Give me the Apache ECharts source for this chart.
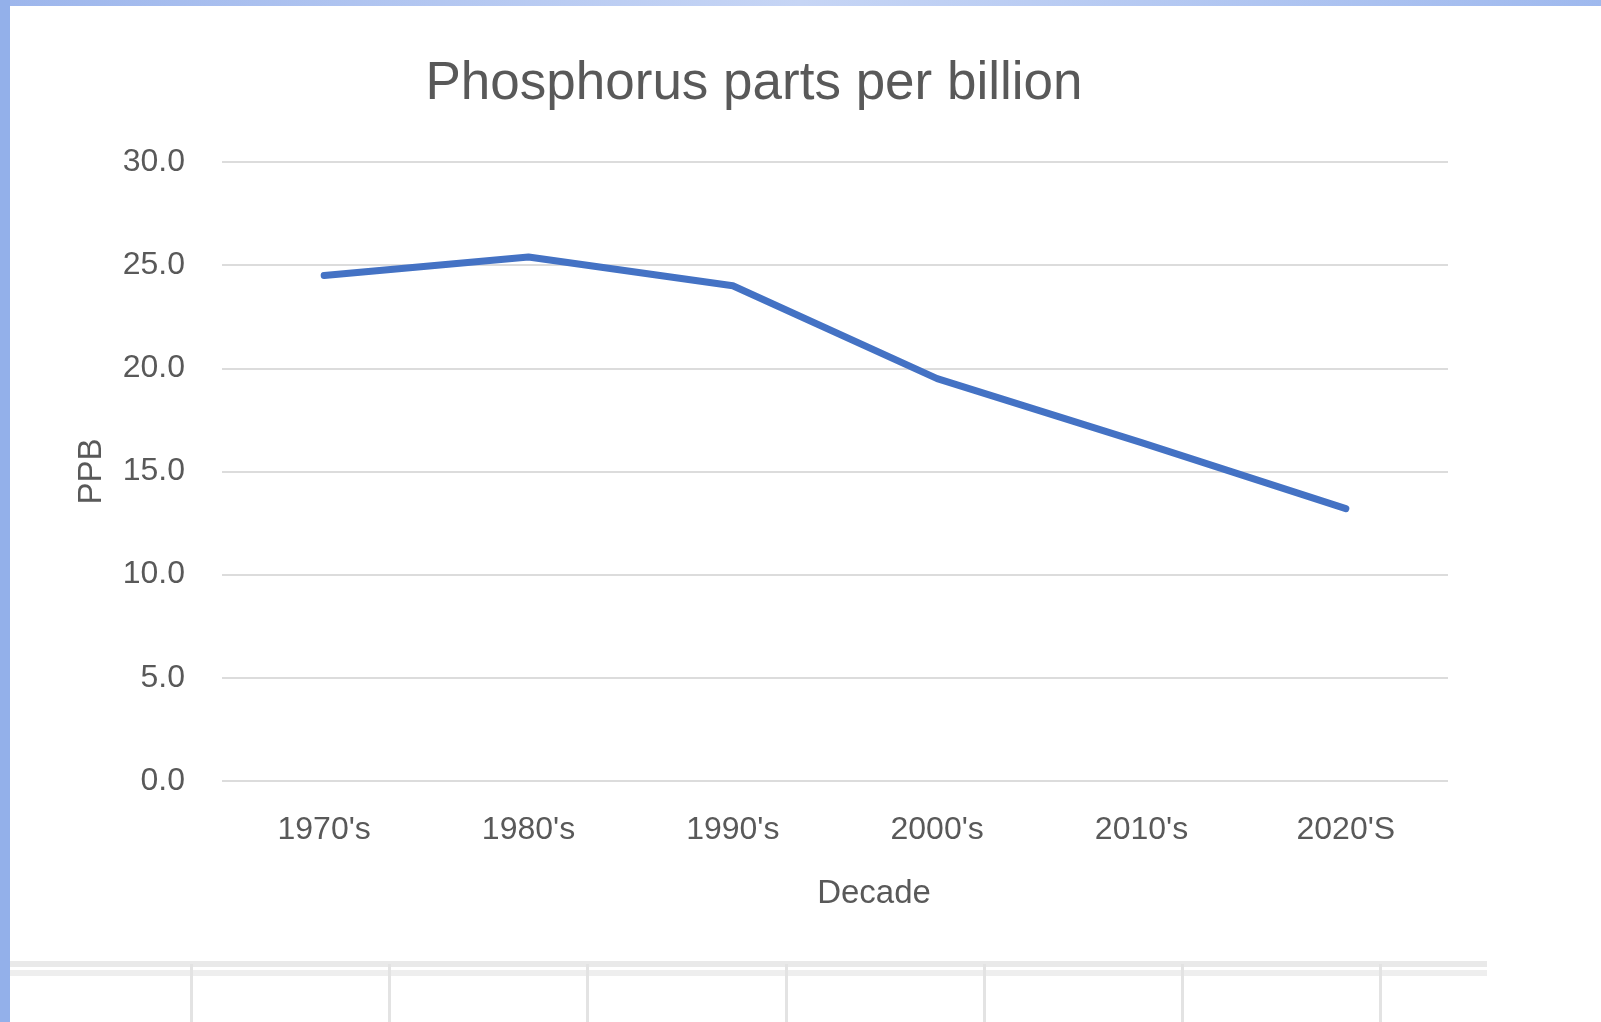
<!DOCTYPE html>
<html>
<head>
<meta charset="utf-8">
<script src="https://cdn.jsdelivr.net/npm/echarts@6/dist/echarts.min.js"></script>
<style>
  html, body { margin: 0; padding: 0; background: #fff; }
  #chart { width: 1601px; height: 1022px; }
</style>
</head>
<body>
<div id="chart"></div>
<script>
var decades = ["1970's", "1980's", "1990's", "2000's", "2010's", "2020'S"];
var ppb = [24.5, 25.4, 24.0, 19.5, 16.4, 13.2];
var yTicks = [0, 5, 10, 15, 20, 25, 30];

var myChart = echarts.init(document.getElementById('chart'));

var fontFam = '"Liberation Sans", "DejaVu Sans", sans-serif';
var grey = '#595959';

// spreadsheet cell borders below the chart (screenshot decoration)
var cellLines = [];
[191, 389, 587, 786, 984, 1182, 1380].forEach(function (x) {
    cellLines.push({
        type: 'rect', silent: true,
        shape: { x: x - 1, y: 964, width: 3, height: 58 },
        style: { fill: '#e3e3e3' }
    });
});

var option = {
    backgroundColor: '#ffffff',
    animation: false,
    title: {
        text: 'Phosphorus parts per billion',
        left: 749,
        top: 53,
        textAlign: 'center',
        textStyle: {
            color: grey,
            fontFamily: fontFam,
            fontSize: 53,
            fontWeight: 'normal'
        }
    },
    grid: {
        left: 222,
        right: 153,
        top: 162,
        bottom: 241
    },
    xAxis: {
        type: 'category',
        data: decades,
        boundaryGap: true,
        name: 'Decade',
        nameLocation: 'middle',
        nameGap: 96,
        nameTextStyle: {
            color: grey, fontFamily: fontFam, fontSize: 33,
            padding: [0, 0, 0, 78]
        },
        axisLine: { show: false },
        axisTick: { show: false },
        axisLabel: {
            color: grey,
            fontFamily: fontFam,
            fontSize: 32,
            margin: 33
        }
    },
    yAxis: {
        type: 'value',
        min: yTicks[0],
        max: yTicks[yTicks.length - 1],
        interval: 5,
        name: 'PPB',
        nameLocation: 'middle',
        nameGap: 114,
        nameRotate: 90,
        nameTextStyle: { color: grey, fontFamily: fontFam, fontSize: 33 },
        axisLine: { show: false },
        axisTick: { show: false },
        axisLabel: {
            color: grey,
            fontFamily: fontFam,
            fontSize: 32,
            margin: 37,
            formatter: function (v) { return v.toFixed(1); }
        },
        splitLine: { lineStyle: { color: '#dcdcdc', width: 2 } }
    },
    series: [
        {
            name: 'PPB',
            type: 'line',
            data: ppb,
            symbol: 'none',
            lineStyle: { color: '#4472c4', width: 7, cap: 'round', join: 'round' }
        }
    ],
    graphic: [
        {
            type: 'rect', silent: true,
            shape: { x: 0, y: 0, width: 1601, height: 6 },
            style: {
                fill: new echarts.graphic.LinearGradient(0, 0, 1, 0, [
                    { offset: 0, color: '#9db6ec' },
                    { offset: 0.5, color: '#c6d5f5' },
                    { offset: 1, color: '#9fb9ee' }
                ])
            }
        },
        {
            type: 'rect', silent: true,
            shape: { x: 0, y: 0, width: 10, height: 1022 },
            style: { fill: '#93b0ea' }
        },
        {
            type: 'rect', silent: true,
            shape: { x: 10, y: 961, width: 1477, height: 6 },
            style: { fill: '#e9e9e9' }
        },
        {
            type: 'rect', silent: true,
            shape: { x: 10, y: 970, width: 1477, height: 6 },
            style: { fill: '#eeeeee' }
        }
    ].concat(cellLines)
};

myChart.setOption(option);
</script>
</body>
</html>
